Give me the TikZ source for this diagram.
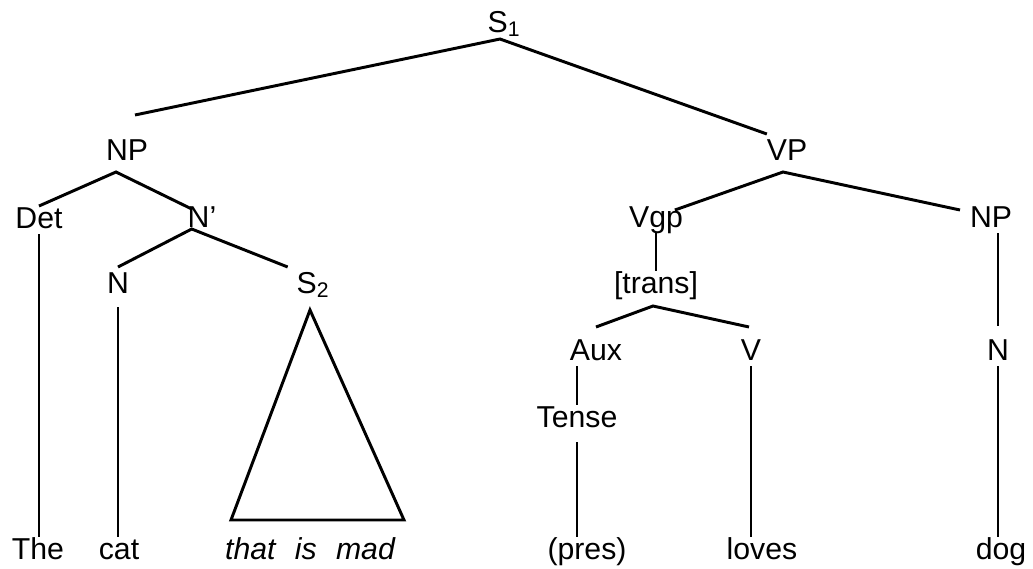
\documentclass[tikz,border=0pt]{standalone}
\usepackage{fontspec}
\setmainfont{Liberation Sans}
\usepackage{tikz}

\begin{document}
\begin{tikzpicture}[x=0.025cm, y=-0.025cm, line width=2.1pt, line join=miter]
\tikzstyle{every node} = [font=\fontsize{21.5}{24}\selectfont, inner sep=0pt, outer sep=0pt, text height=0.55cm, text depth=0.15cm, anchor=base]

\useasboundingbox (0,0) rectangle (1033,568);

% categories
\node (S1) at (504,32) {S\textsubscript{1}};
\node (NP1) at (127,160) {NP};
\node (VP) at (787,160) {VP};
\node (Det) at (39,228) {Det};
\node (Nbar) at (202,227) {N'};
\node (Vgp) at (656,227) {Vgp};
\node (NP2) at (991,227) {NP};
\node (N1) at (118,293) {N};
\node (S2) at (313,293) {S\textsubscript{2}};
\node (Trans) at (656,293) {[trans]};
\node (Aux) at (596,360) {Aux};
\node (V) at (751,360) {V};
\node (N2) at (998,360) {N};
\node (Tense) at (577,427) {Tense};

% words
\node (The) at (38,559) {The};
\node (Cat) at (119,559) {cat};
\node (Mad) at (310,559) {\itshape that\hspace{0.64em}is\hspace{0.64em}mad};
\node (Pres) at (587,559) {(pres)};
\node (Loves) at (762,559) {loves};
\node (Dog) at (1001,559) {dog};

\coordinate (TL) at (231,520);
\coordinate (TR) at (404,520);

% branches
\draw ([shift={(8,-23)}]NP1.north) -- ([shift={(-4,1)}]S1.south) -- ([shift={(0,-4)}]VP.north west);
\draw (Det.north) -- ([shift={(-11,6)}]NP1.south) -- ([shift={(4,4)}]Nbar.north west);
\draw ([shift={(0,-4)}]N1.north) -- ([shift={(4,-4)}]Nbar.south west) -- ([shift={(-9,-4)}]S2.north west);
\draw ([shift={(-3,11)}]S2.south) -- (TL) -- (TR) -- cycle;
\draw (Det.south) -- (Det.south |- The.north);
\draw ([shift={(0,8)}]N1.south) -- (N1.south |- Cat.north);
\draw ([shift={(-8,5)}]Vgp.north east) -- ([shift={(-4,6)}]VP.south) -- ([shift={(-10,5)}]NP2.north west);
\draw (Vgp.south) -- (Trans.north);
\draw ([shift={(0,-11)}]Aux.north) -- ([shift={(-3,7)}]Trans.south) -- ([shift={(-2,-11)}]V.north);
\draw (Aux.south -| Tense.north) -- (Tense.north);
\draw ([shift={(0,9)}]Tense.south) -- (Tense.south |- Pres.north);
\draw (V.south) -- (V.south |- Loves.north);
\draw (NP2.south -| N2.north) -- ([shift={(0,-12)}]N2.north);
\draw (N2.south) -- (N2.south |- Dog.north);

\end{tikzpicture}
\end{document}
